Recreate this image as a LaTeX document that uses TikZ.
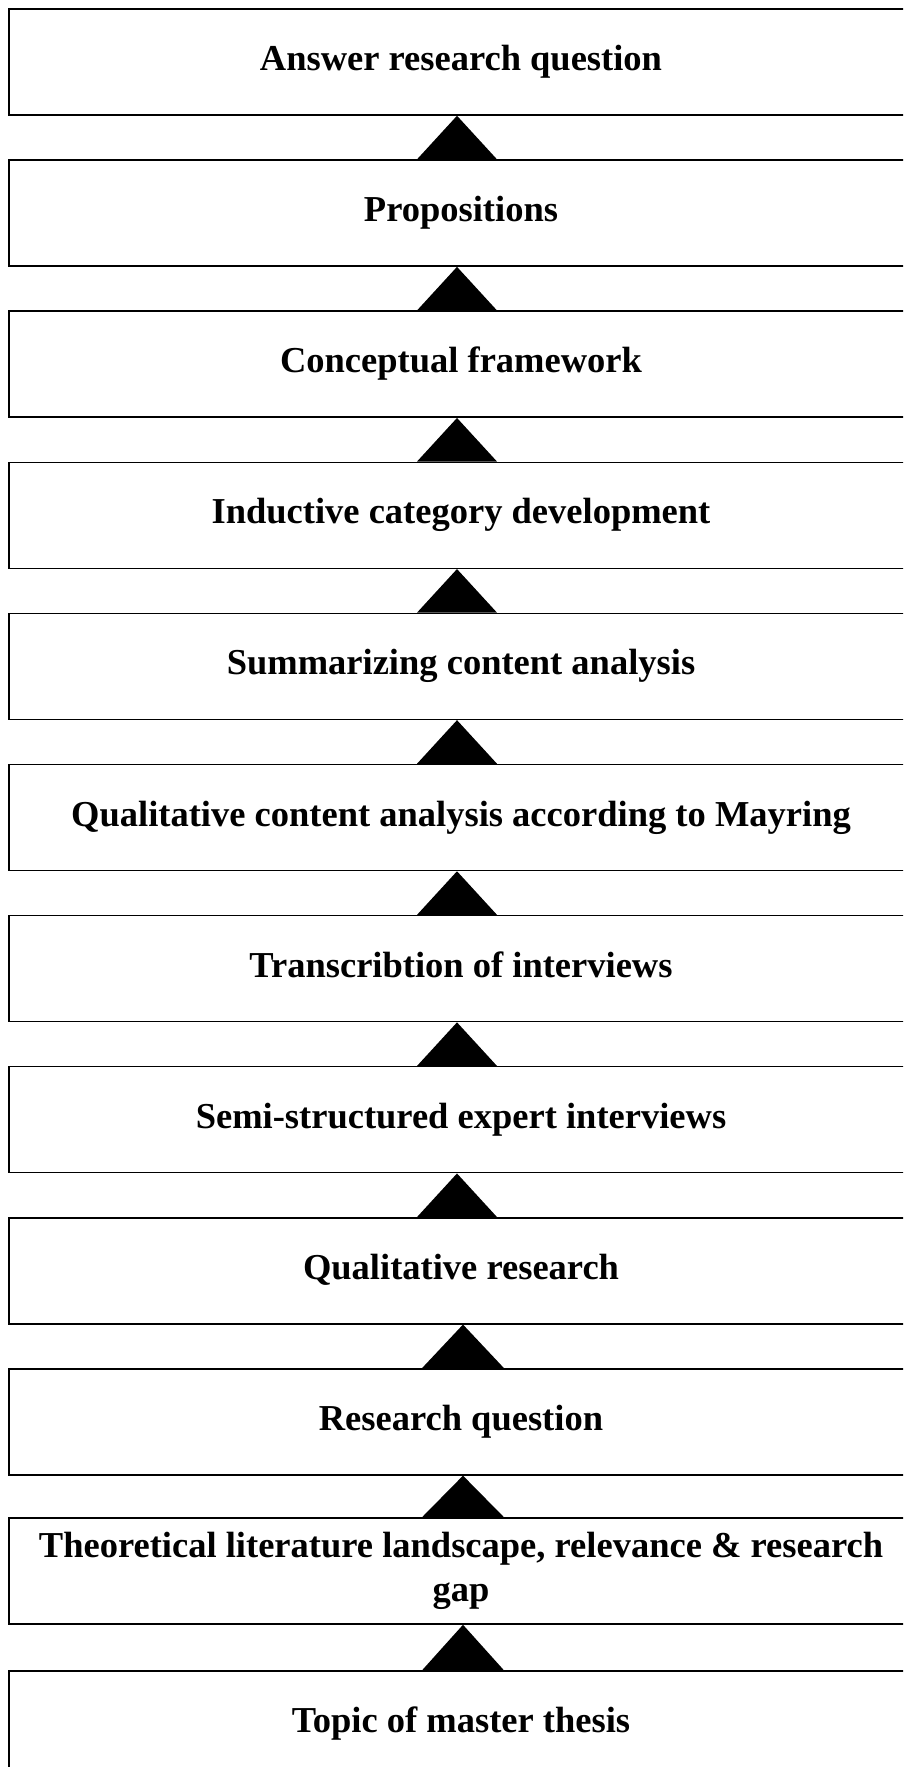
\documentclass[tikz,border=0pt]{standalone}
\usepackage{fontspec}
\setmainfont{Liberation Serif}
\begin{document}
\begin{tikzpicture}[x=1pt,y=-1pt,
  stagebox/.style={draw, line width=1.5pt, rectangle, minimum width=904pt,
    minimum height=106pt, inner sep=0pt, align=center,
    font=\fontsize{36.5}{43.8}\selectfont\bfseries},
  onelinebox/.style={stagebox, text height=25pt, text depth=8pt},
  flowtip/.style={fill=black}]
\path[use as bounding box] (0,0) rectangle (903,1767);
\clip (0,0) rectangle (903,1767);

% stages, from the result at the top down to the starting point
\node[onelinebox] (answer)    at (461,  62.0) {Answer research question};
\node[onelinebox] (props)     at (461, 213.1) {Propositions};
\node[onelinebox] (concept)   at (461, 364.2) {Conceptual framework};
\node[onelinebox] (inductive) at (461, 515.3) {Inductive category development};
\node[onelinebox] (summar)    at (461, 666.4) {Summarizing content analysis};
\node[onelinebox] (qca)       at (461, 817.5) {Qualitative content analysis according to Mayring};
\node[onelinebox] (transcr)   at (461, 968.6) {Transcribtion of interviews};
\node[onelinebox] (semi)      at (461,1119.7) {Semi-structured expert interviews};
\node[onelinebox] (qualres)   at (461,1270.8) {Qualitative research};
\node[onelinebox] (rq)        at (461,1421.9) {Research question};
\node[stagebox]   (theory)    at (461,1571.0) {Theoretical literature landscape, relevance \& research\\gap};
\node[onelinebox] (topic)     at (461,1724.1) {Topic of master thesis};

% upward triangles: {upper}{lower}{apex shift}{left base shift}{right base shift}
\newcommand\stagetip[5]{%
  \fill[flowtip] ([xshift=#4]#2.north) -- ([xshift=#3]#1.south) -- ([xshift=#5]#2.north) -- cycle;}
\stagetip{answer}{props}{-4pt}{-44pt}{36pt}
\stagetip{props}{concept}{-4pt}{-44pt}{36pt}
\stagetip{concept}{inductive}{-4pt}{-44pt}{36pt}
\stagetip{inductive}{summar}{-4pt}{-44pt}{36pt}
\stagetip{summar}{qca}{-4pt}{-44pt}{36pt}
\stagetip{qca}{transcr}{-4pt}{-44pt}{36pt}
\stagetip{transcr}{semi}{-4pt}{-44pt}{36pt}
\stagetip{semi}{qualres}{-4pt}{-44pt}{36pt}
\stagetip{qualres}{rq}{2pt}{-39pt}{43pt}
\stagetip{rq}{theory}{2pt}{-39pt}{43pt}
\stagetip{theory}{topic}{2pt}{-39pt}{43pt}
\end{tikzpicture}
\end{document}
